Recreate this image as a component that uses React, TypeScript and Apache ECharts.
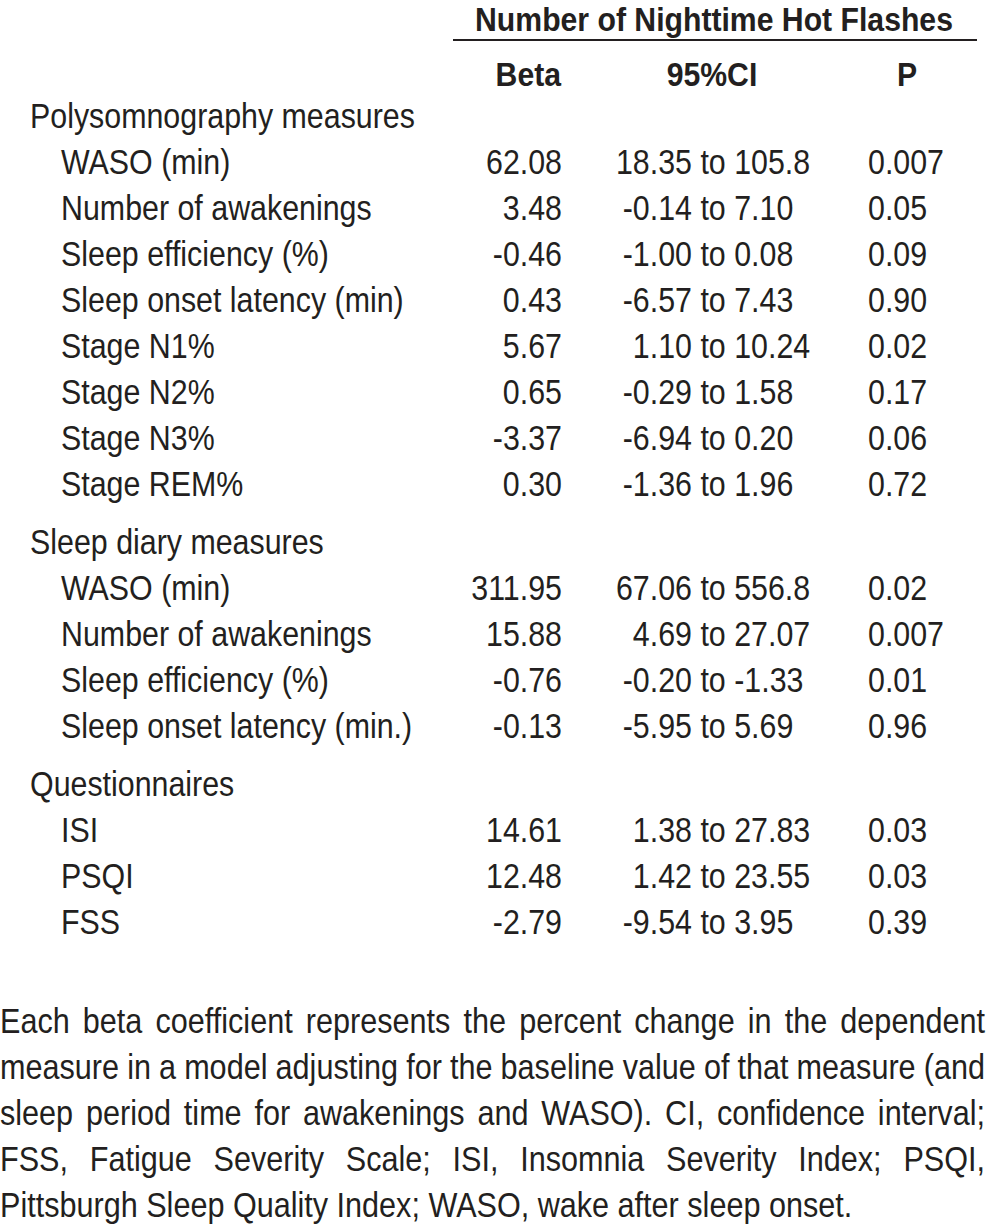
import React, { useEffect, useRef } from 'react';
import * as echarts from 'echarts';

const headerTitle = 'Number of Nighttime Hot Flashes';
const columnHeaders = ['Beta', '95%CI', 'P'];
const sections = ['Polysomnography measures', 'Sleep diary measures', 'Questionnaires'];
const rowSection = [0, 0, 0, 0, 0, 0, 0, 0, 1, 1, 1, 1, 2, 2, 2];
const rowLabels = [
  'WASO (min)',
  'Number of awakenings',
  'Sleep efficiency (%)',
  'Sleep onset latency (min)',
  'Stage N1%',
  'Stage N2%',
  'Stage N3%',
  'Stage REM%',
  'WASO (min)',
  'Number of awakenings',
  'Sleep efficiency (%)',
  'Sleep onset latency (min.)',
  'ISI',
  'PSQI',
  'FSS',
];
const betas = ['62.08', '3.48', '-0.46', '0.43', '5.67', '0.65', '-3.37', '0.30', '311.95', '15.88', '-0.76', '-0.13', '14.61', '12.48', '-2.79'];
const ciLower = ['18.35', '-0.14', '-1.00', '-6.57', '1.10', '-0.29', '-6.94', '-1.36', '67.06', '4.69', '-0.20', '-5.95', '1.38', '1.42', '-9.54'];
const ciUpper = ['105.8', '7.10', '0.08', '7.43', '10.24', '1.58', '0.20', '1.96', '556.8', '27.07', '-1.33', '5.69', '27.83', '23.55', '3.95'];
const pValues = ['0.007', '0.05', '0.09', '0.90', '0.02', '0.17', '0.06', '0.72', '0.02', '0.007', '0.01', '0.96', '0.03', '0.03', '0.39'];
const footnoteLines = [
  'Each beta coefficient represents the percent change in the dependent',
  'measure in a model adjusting for the baseline value of that measure (and',
  'sleep period time for awakenings and WASO). CI, confidence interval;',
  'FSS, Fatigue Severity Scale; ISI, Insomnia Severity Index; PSQI,',
  'Pittsburgh Sleep Quality Index; WASO, wake after sleep onset.',
];

const FONT = '"Liberation Sans", Arial, Helvetica, sans-serif';
const INK = '#231f20';
const T_SIZE = 35;
const T_SX = 0.868;
const H_SIZE = 33;
const H_SX = 0.915;
const F_SIZE = 36;
const F_SX = 0.85;

function makeMeasurer() {
  const c = document.createElement('canvas');
  const ctx = c.getContext('2d')!;
  return (text: string, size: number, weight: string, sx: number) => {
    ctx.font = `${weight} ${size}px ${FONT}`;
    return ctx.measureText(text).width * sx;
  };
}

function txt(text: string, x: number, y: number, opts: any = {}) {
  return {
    type: 'text',
    x,
    y,
    scaleX: opts.sx ?? T_SX,
    style: {
      text,
      fill: INK,
      fontFamily: FONT,
      fontSize: opts.size ?? T_SIZE,
      fontWeight: opts.weight ?? 'normal',
      textAlign: opts.align ?? 'left',
      textVerticalAlign: 'middle',
    },
  };
}

export default function App() {
  const ref = useRef<HTMLDivElement>(null);
  useEffect(() => {
    if (!ref.current) return;
    const chart = echarts.init(ref.current, null, { renderer: 'svg', width: 986, height: 1224 });
    const measure = makeMeasurer();
    const els: any[] = [];

    const hOpts = { weight: 'bold', size: H_SIZE, sx: H_SX };
    // header
    els.push(txt(headerTitle, 714, 19.5, { ...hOpts, align: 'center' }));
    els.push({
      type: 'line',
      shape: { x1: 453, y1: 40, x2: 977, y2: 40 },
      style: { stroke: INK, lineWidth: 2 },
    });
    els.push(txt(columnHeaders[0], 561, 75, { ...hOpts, align: 'right' }));
    els.push(txt(columnHeaders[1], 712, 75, { ...hOpts, align: 'center' }));
    els.push(txt(columnHeaders[2], 907, 75, { ...hOpts, align: 'center' }));

    // body rows
    let k = 0;
    const yOf = (line: number, sec: number) => 115.5 + 46 * line + 12 * sec;
    rowLabels.forEach((label, i) => {
      const sec = rowSection[i];
      if (i === 0 || rowSection[i - 1] !== sec) {
        els.push(txt(sections[sec], 30, yOf(k, sec)));
        k++;
      }
      const y = yOf(k, sec);
      els.push(txt(label, 61, y));
      els.push(txt(betas[i], 562, y, { align: 'right' }));
      const lowW = measure(ciLower[i], T_SIZE, 'normal', T_SX);
      els.push(txt(`${ciLower[i]} to ${ciUpper[i]}`, 692 - lowW, y));
      els.push(txt(pValues[i], 868, y));
      k++;
    });

    // footnote (justified)
    const fx0 = 0;
    const fx1 = 985;
    footnoteLines.forEach((line, li) => {
      const y = 1021 + 45.8 * li;
      if (li === footnoteLines.length - 1) {
        els.push(txt(line, fx0, y, { size: F_SIZE, sx: F_SX }));
        return;
      }
      const words = line.split(' ');
      const widths = words.map((w) => measure(w, F_SIZE, 'normal', F_SX));
      const total = widths.reduce((a, b) => a + b, 0);
      const gap = (fx1 - fx0 - total) / (words.length - 1);
      let x = fx0;
      words.forEach((w, wi) => {
        els.push(txt(w, x, y, { size: F_SIZE, sx: F_SX }));
        x += widths[wi] + gap;
      });
    });

    chart.setOption({
      animation: false,
      backgroundColor: '#ffffff',
      graphic: { elements: els },
    });
    return () => chart.dispose();
  }, []);
  return (
    <div
      ref={ref}
      style={{ position: 'absolute', left: 0, top: 0, width: 986, height: 1224, background: '#fff' }}
    />
  );
}
